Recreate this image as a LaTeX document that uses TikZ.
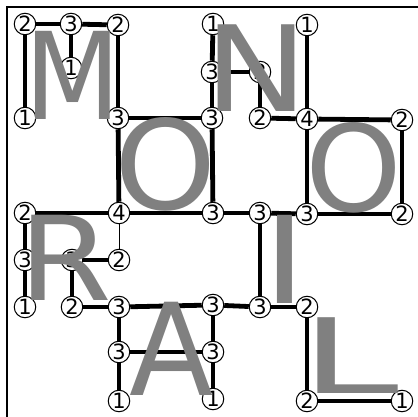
\documentclass[tikz,border=0pt]{standalone}
\usepackage{fontspec}
\setmainfont{DejaVu Sans}
\usepackage{graphicx}
\definecolor{lettergray}{HTML}{808080}
\begin{document}
\begin{tikzpicture}[x=1pt,y=-1pt,
  hnode/.style={circle,draw=black,line width=1pt,fill=white,minimum size=21.5pt,inner sep=0pt,font=\fontsize{21}{21}\selectfont},
  bridge/.style={line width=4.8pt},
  thinbridge/.style={line width=1pt},
  frame/.style={line width=2pt},
  letter/.style={inner sep=0pt,outer sep=0pt,text=lettergray,anchor=base west,font=\fontsize{100}{100}\selectfont}]
\useasboundingbox (0,0) rectangle (418,417);
% frame
\coordinate (fa) at (7,418);
\coordinate (fb) at (7,7);
\coordinate (fc) at (418,7);
\draw[frame] (fa) -- (fb) -- (fc);
% islands
\node[hnode] (a1) at (25,24) {2};
\node[hnode] (a2) at (71,24) {3};
\node[hnode] (a3) at (118,25) {2};
\node[hnode] (a4) at (71,68) {1};
\node[hnode] (a5) at (25,118) {1};
\node[hnode] (a6) at (118,118) {3};
\node[hnode] (b1) at (213,24) {1};
\node[hnode] (b2) at (307,25) {1};
\node[hnode] (b3) at (212,72) {3};
\node[hnode] (b4) at (260,72) {2};
\node[hnode] (b5) at (212,118) {3};
\node[hnode] (b6) at (260,118) {2};
\node[hnode] (b7) at (307,119) {4};
\node[hnode] (b8) at (402,120) {2};
\node[hnode] (c1) at (25,213) {2};
\node[hnode] (c2) at (119,213) {4};
\node[hnode] (c3) at (213,213) {3};
\node[hnode] (c4) at (260,213) {3};
\node[hnode] (c5) at (307,214) {3};
\node[hnode] (c6) at (402,214) {2};
\node[hnode] (d1) at (25,260) {3};
\node[hnode] (d2) at (72,260) {3};
\node[hnode] (d3) at (119,260) {2};
\node[hnode] (e1) at (25,307) {1};
\node[hnode] (e2) at (72,307) {2};
\node[hnode] (e3) at (119,307) {3};
\node[hnode] (e4) at (213,305) {3};
\node[hnode] (e5) at (260,307) {3};
\node[hnode] (e6) at (307,307) {2};
\node[hnode] (f1) at (119,352) {3};
\node[hnode] (f2) at (213,352) {3};
\node[hnode] (g1) at (119,401) {1};
\node[hnode] (g2) at (213,399) {1};
\node[hnode] (g3) at (307,401) {2};
\node[hnode] (g4) at (402,401) {1};
% bridges
\draw[bridge] (a1) -- (a2);
\draw[bridge] (a2) -- (a3);
\draw[bridge] (a1) -- (a5);
\draw[bridge] (a2) -- (a4);
\draw[bridge] (a3) -- (a6);
\draw[bridge] (a6) -- (b5);
\draw[bridge] (a6) -- (c2);
\draw[bridge] (b1) -- (b3);
\draw[bridge] (b3) -- (b4);
\draw[bridge] (b3) -- (b5);
\draw[bridge] (b4) -- (b6);
\draw[bridge] (b6) -- (b7);
\draw[bridge] (b2) -- (b7);
\draw[bridge] (b7) -- (b8);
\draw[bridge] (b7) -- (c5);
\draw[bridge] (b8) -- (c6);
\draw[bridge] (c5) -- (c6);
\draw[bridge] (b5) -- (c3);
\draw[bridge] (c1) -- (c2);
\draw[bridge] (c2) -- (c3);
\draw[bridge] (c3) -- (c4);
\draw[bridge] (c4) -- (c5);
\draw[thinbridge] (c2) -- (d3);
\draw[bridge] (c1) -- (d1);
\draw[bridge] (d1) -- (e1);
\draw[bridge] (d1) -- (d2);
\draw[bridge] (d2) -- (d3);
\draw[bridge] (d2) -- (e2);
\draw[bridge] (e2) -- (e3);
\draw[bridge] (e3) -- (e4);
\draw[bridge] (e4) -- (e5);
\draw[bridge] (e5) -- (e6);
\draw[bridge] (c4) -- (e5);
\draw[bridge] (e3) -- (f1);
\draw[bridge] (f1) -- (g1);
\draw[bridge] (f1) -- (f2);
\draw[bridge] (e4) -- (f2);
\draw[bridge] (f2) -- (g2);
\draw[bridge] (e6) -- (g3);
\draw[bridge] (g3) -- (g4);
% letters
\node[letter] (lM) at (24,120) {\scalebox{1.12}[1.21]{M}};
\node[letter] (lN) at (204.4,112) {\scalebox{1.39}[1.19]{N}};
\node[letter] (lO1) at (114.7,210) {\scalebox{1.30}[1.24]{O}};
\node[letter] (lO2) at (305.1,211.3) {\scalebox{1.23}[1.20]{O}};
\node[letter] (lR) at (18.8,300) {\scalebox{1.35}[1.17]{R}};
\node[letter] (lI) at (262,303) {\scalebox{1.52}[1.21]{I}};
\node[letter] (lA) at (129,395) {\scalebox{1.23}[1.28]{A}};
\node[letter] (lL) at (300.6,393) {\scalebox{1.77}[1.04]{L}};
\end{tikzpicture}
\end{document}
